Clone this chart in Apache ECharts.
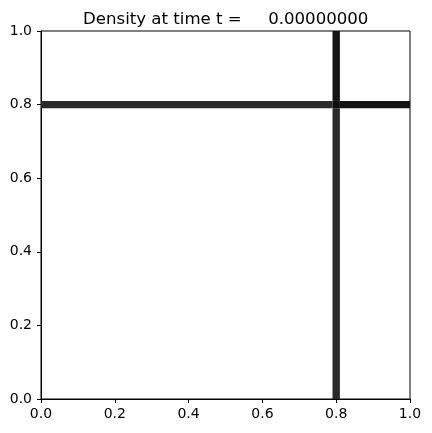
<!DOCTYPE html>
<html>
<head>
<meta charset="utf-8">
<script src="https://cdn.jsdelivr.net/npm/echarts@6/dist/echarts.min.js"></script>
<style>html,body{margin:0;padding:0;background:#fff;}#c{width:432px;height:433px;}</style>
</head>
<body>
<div id="c"></div>
<script>
// Density patches (data coordinates)
const regionNames = ['lower vertical', 'upper vertical', 'left horizontal', 'right horizontal', 'intersection'];
const xFrom = [0.79, 0.79, 0.00, 0.81, 0.79];
const xTo   = [0.81, 0.81, 0.79, 1.00, 0.81];
const yFrom = [0.00, 0.81, 0.79, 0.79, 0.79];
const yTo   = [0.79, 1.00, 0.81, 0.81, 0.81];
const density = [0.835, 0.92, 0.835, 0.92, 0.945];
const tickValues = [0.0, 0.2, 0.4, 0.6, 0.8, 1.0];
const titleText = 'Density at time t =     0.00000000';

const data = regionNames.map((n, i) => [xFrom[i], xTo[i], yFrom[i], yTo[i], density[i]]);

const chart = echarts.init(document.getElementById('c'), null, {renderer: 'canvas'});
const axisCommon = {
  type: 'value', min: tickValues[0], max: tickValues[tickValues.length - 1], interval: 0.2,
  axisLine: {show: true, lineStyle: {color: '#000', width: 1}},
  axisTick: {show: true, inside: false, length: 4, lineStyle: {color: '#000'}},
  axisLabel: {color: '#000', fontFamily: 'DejaVu Sans', fontSize: 14,
    formatter: v => v.toFixed(1)},
  splitLine: {show: false}
};
chart.setOption({
  animation: false,
  title: {text: titleText, left: 78, top: 6,
    textStyle: {fontFamily: 'DejaVu Sans', fontSize: 16.6, fontWeight: 'normal', color: '#000'}},
  grid: {left: 41, right: 22, top: 31, bottom: 34, show: true, borderColor: '#000', borderWidth: 1, backgroundColor: 'transparent'},
  xAxis: Object.assign({}, axisCommon, {position: 'bottom', axisLabel: Object.assign({}, axisCommon.axisLabel, {margin: 8})}),
  yAxis: Object.assign({}, axisCommon, {position: 'left', axisLabel: Object.assign({}, axisCommon.axisLabel, {margin: 9})}),
  visualMap: {show: false, type: 'continuous', min: 0, max: 1, dimension: 4,
    inRange: {color: ['#ffffff', '#000000']}},
  series: [{
    type: 'custom',
    clip: true,
    data: data,
    encode: {x: [0, 1], y: [2, 3]},
    renderItem: function (params, api) {
      const p0 = api.coord([api.value(0), api.value(3)]);
      const p1 = api.coord([api.value(1), api.value(2)]);
      const rect = echarts.graphic.clipRectByRect(
        {x: p0[0], y: p0[1], width: p1[0] - p0[0], height: p1[1] - p0[1]},
        {x: params.coordSys.x, y: params.coordSys.y, width: params.coordSys.width, height: params.coordSys.height});
      return rect && {type: 'rect', shape: rect, style: {fill: api.visual('color')}};
    }
  }]
});
</script>
</body>
</html>
